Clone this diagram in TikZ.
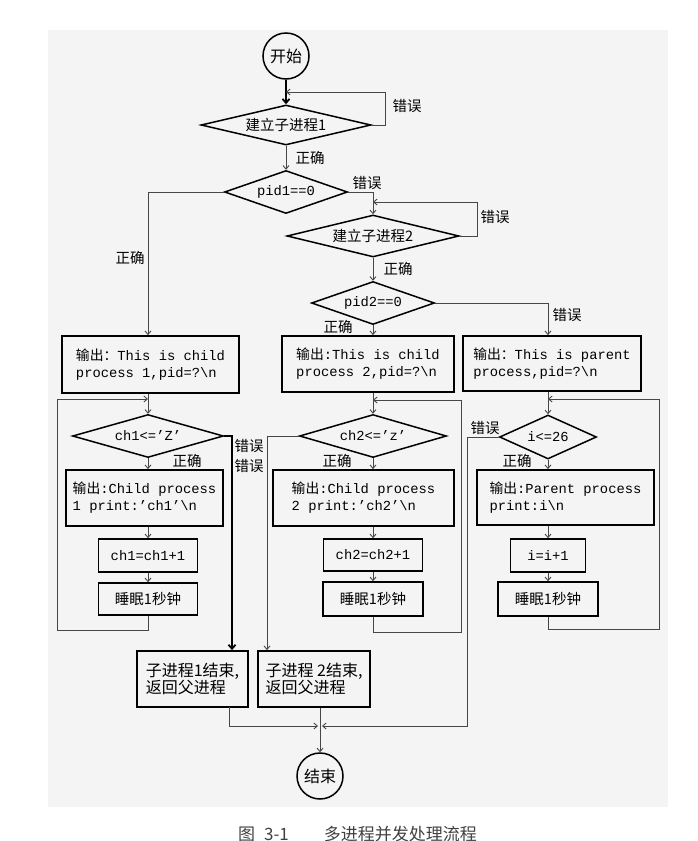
\documentclass[tikz,border=0pt]{standalone}
\usepackage{fontspec}
\setmainfont{Liberation Mono}
\newfontfamily\zh{Noto Sans CJK SC}
\usetikzlibrary{shapes.geometric,arrows.meta}
\definecolor{bg}{RGB}{244,244,244}
\definecolor{ln}{RGB}{70,70,70}
\newcommand\fs{\fontsize{13.8}{17}\selectfont}
\newcommand\zs{\zh\fontsize{14.5}{17}\selectfont}
\newcommand\zb{\zh\fontsize{16}{17}\selectfont}
\begin{document}
\begin{tikzpicture}[x=1pt,y=-1pt,
  box/.style={draw, line width=1.8pt, inner sep=0pt, font=\fs, align=left},
  sbox/.style={draw, line width=1.6pt, inner sep=0pt, font=\fs, align=center},
  dia/.style={diamond, draw, line width=1.5pt, inner sep=0pt, aspect=4, font=\fs},
  term/.style={circle, draw, line width=1.5pt, minimum size=46pt, inner sep=0pt, font=\zb},
  conn/.style={draw=ln, line width=0.9pt, -{Straight Barb[length=3.5pt,width=6pt]}},
  heavy/.style={draw=black, line width=1.8pt, -{Straight Barb[length=4pt,width=7pt]}},
  lab/.style={font=\zs, inner sep=0pt}]
\useasboundingbox (0,0) rectangle (697,841);
\fill[bg] (48,30) rectangle (668,807);

% top
\node[term] (st) at (286,56) {开始};
\node[dia, minimum width=170pt, minimum height=40pt] (d1) at (286,125) {\zs 建立子进程1};
\node[dia, minimum width=123pt, minimum height=43pt] (p1) at (286,192) {pid1==0};
\node[dia, minimum width=172pt, minimum height=42pt] (d2) at (373,236) {\zs 建立子进程2};
\node[dia, minimum width=123pt, minimum height=43pt] (p2) at (373,303) {pid2==0};

% first row of boxes
\node[box, minimum width=177pt, minimum height=57pt] (b1) at (150.5,364.5) {{\zh 输出：}This is child\\process 1,pid=?\textbackslash n};
\node[box, minimum width=172pt, minimum height=56pt] (b2) at (368,364) {{\zh 输出}:This is child\\process 2,pid=?\textbackslash n};
\node[box, minimum width=178pt, minimum height=55pt] (b3) at (552,363.5) {{\zh 输出：}This is parent\\process,pid=?\textbackslash n};

% loop diamonds
\node[dia, minimum width=151pt, minimum height=43pt] (c1) at (148,436) {ch1<=’Z’};
\node[dia, minimum width=147pt, minimum height=43pt] (c2) at (373,436) {ch2<=’z’};
\node[dia, minimum width=97pt, minimum height=44pt] (c3) at (548,437) {i<=26};

% loop bodies
\node[box, minimum width=157pt, minimum height=56pt] (o1) at (144.5,498) {{\zh 输出}:Child process\\1 print:’ch1’\textbackslash n};
\node[box, minimum width=181pt, minimum height=56pt] (o2) at (363.5,498) {{\zh 输出}:Child process\\2 print:’ch2’\textbackslash n};
\node[box, minimum width=177pt, minimum height=55pt] (o3) at (565.5,497.5) {{\zh 输出}:Parent process\\print:i\textbackslash n};

\node[sbox, minimum width=99pt, minimum height=33pt] (i1) at (148,555.5) {ch1=ch1+1};
\node[sbox, minimum width=99pt, minimum height=32pt, font=\zs] (s1) at (148,599) {睡眠1秒钟};
\node[sbox, minimum width=99pt, minimum height=32pt] (i2) at (373,555) {ch2=ch2+1};
\node[sbox, minimum width=100pt, minimum height=34pt, font=\zs] (s2) at (373,599) {睡眠1秒钟};
\node[sbox, minimum width=75pt, minimum height=33pt] (i3) at (548,555.5) {i=i+1};
\node[sbox, minimum width=100pt, minimum height=34pt, font=\zs] (s3) at (548,599) {睡眠1秒钟};

% end boxes
\node[box, minimum width=111pt, minimum height=56pt, font=\zb] (e1) at (192.5,679) {子进程1结束,\\返回父进程};
\node[box, minimum width=112pt, minimum height=56pt, font=\zb] (e2) at (314,679) {子进程 2结束,\\返回父进程};
\node[term] (en) at (320,776) {结束};

% labels
\node[lab] at (407,106) {错误};
\node[lab] at (310,158) {正确};
\node[lab] at (367,183) {错误};
\node[lab] at (130,258) {正确};
\node[lab] at (495,217) {错误};
\node[lab] at (398,269) {正确};
\node[lab] at (338,327) {正确};
\node[lab] at (567,315) {错误};
\node[lab] at (249,446) {错误};
\node[lab] at (249,466) {错误};
\node[lab] at (187,461) {正确};
\node[lab] at (337,461) {正确};
\node[lab] at (485,428) {错误};
\node[lab] at (517,461) {正确};

% coordinates
\coordinate (j1) at (286,92);
\coordinate (j2) at (373,202);
\coordinate (j3) at (148,399);
\coordinate (j4) at (373,400);
\coordinate (j5) at (548,399);
\coordinate (k1) at (232,436);
\coordinate (k2) at (267,436);
\coordinate (k3) at (467,437);
\coordinate (mL) at (318,726);
\coordinate (mR) at (322,726);
\coordinate (f1) at (229,707);

% connectors
\draw[heavy] (st.south) -- (d1.north);
\draw[conn] (d1.east) -| (385,92) -- (j1);
\draw[conn] (d1.south) -- (p1.north);
\draw[conn] (p1.west) -| (c1 |- b1.north);
\draw[conn] (p1.east) -| (d2.north);
\draw[conn] (d2.east) -| (477,202) -- (j2);
\draw[conn] (d2.south) -- (p2.north);
\draw[conn] (p2.south) -- (p2.south |- b2.north);
\draw[conn] (p2.east) -| (c3 |- b3.north);

\draw[conn] (c1 |- b1.south) -- (c1.north);
\draw[conn] (c1.south) -- (c1 |- o1.north);
\draw[conn] (c1 |- o1.south) -- (i1.north);
\draw[conn] (i1.south) -- (s1.north);
\draw[conn] (s1.south) -- (148,630) -- (57,630) -- (57,399) -- (j3);

\draw[conn] (c2 |- b2.south) -- (c2.north);
\draw[conn] (c2.south) -- (c2 |- o2.north);
\draw[conn] (c2 |- o2.south) -- (i2.north);
\draw[conn] (i2.south) -- (s2.north);
\draw[conn] (s2.south) -- (373,632) -- (461,632) -- (461,400) -- (j4);

\draw[conn] (c3 |- b3.south) -- (c3.north);
\draw[conn] (c3.south) -- (c3 |- o3.north);
\draw[conn] (c3 |- o3.south) -- (i3.north);
\draw[conn] (i3.south) -- (s3.north);
\draw[conn] (s3.south) -- (548,629) -- (659,629) -- (659,399) -- (j5);

\draw[heavy] (c1.east) -- (k1) -- (k1 |- e1.north);
\draw[conn] (c2.west) -- (k2) -- (k2 |- e2.north);
\draw[conn] (c3.west) -- (k3) |- (mR);
\draw[conn] (f1) |- (mL);
\draw[conn] (en |- e2.south) -- (en.north);

% caption
\node[font=\zh\fontsize{17}{17}\selectfont, text=black!75, inner sep=0pt] (cap) at (357.5,834) {图\hspace{9pt}3-1\hspace{35pt}多进程并发处理流程};
\end{tikzpicture}
\end{document}
